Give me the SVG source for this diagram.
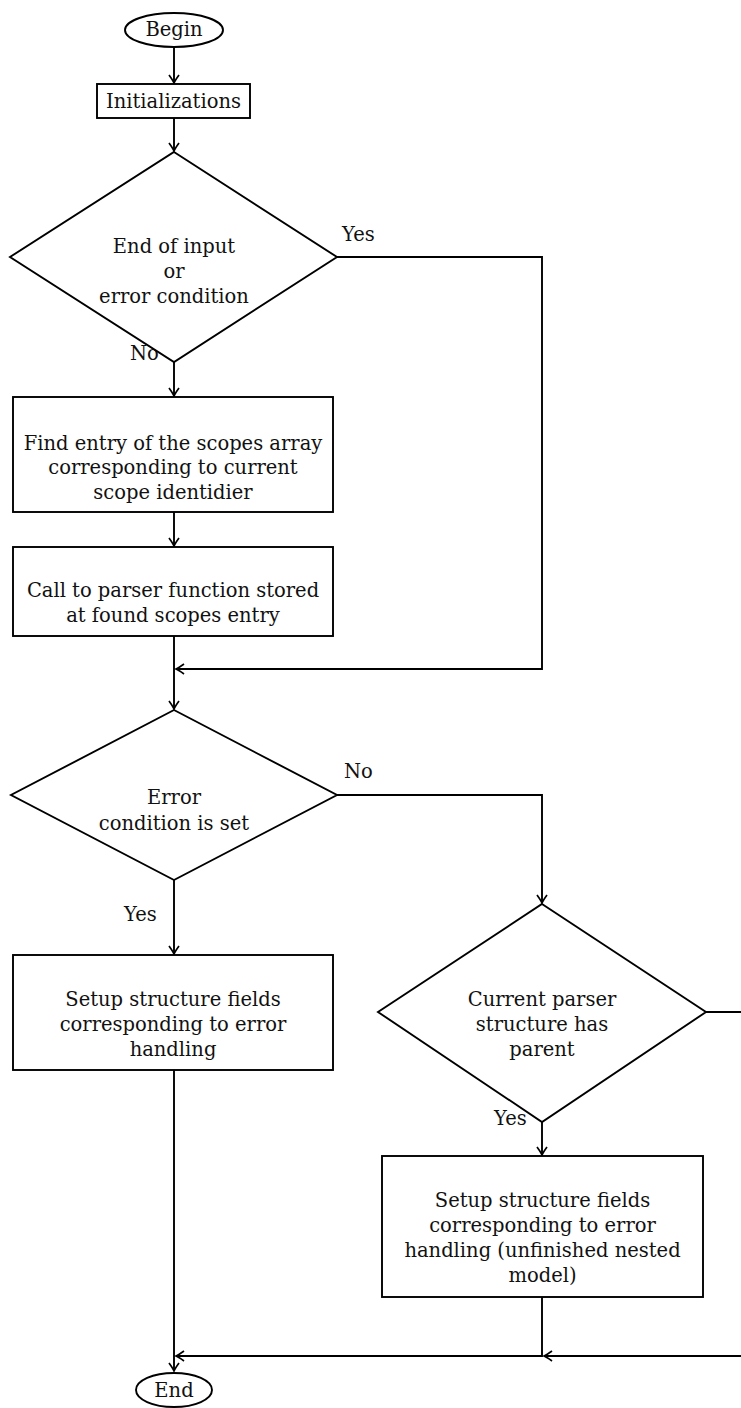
<svg xmlns="http://www.w3.org/2000/svg" width="741" height="1408" viewBox="0 0 741 1408">
<style>
.s{fill:none;stroke:#000;stroke-width:1.9}
.n{fill:#fff;stroke:#000;stroke-width:1.9}
text{font-family:"DejaVu Serif","Liberation Serif",serif;font-size:19.5px;fill:#111}
.c{text-anchor:middle}
</style>
<defs>
<marker id="a" markerUnits="userSpaceOnUse" markerWidth="16" markerHeight="16" viewBox="-12 -8 14 16" refX="0" refY="0" orient="auto">
<path d="M-8,-5 Q-2.5,-1 0,0 Q-2.5,1 -8,5" fill="none" stroke="#000" stroke-width="1.7"/>
</marker>
</defs>
<g id="connectors" class="s">
<path d="M174,48 V83" marker-end="url(#a)"/>
<path d="M174,118 V151" marker-end="url(#a)"/>
<path d="M174,362 V396" marker-end="url(#a)"/>
<path d="M174,512 V546" marker-end="url(#a)"/>
<path d="M174,636 V709" marker-end="url(#a)"/>
<path d="M337,257 H542 V669 H176" marker-end="url(#a)"/>
<path d="M174,880 V954" marker-end="url(#a)"/>
<path d="M337,795 H542 V903" marker-end="url(#a)"/>
<path d="M542,1122 V1155" marker-end="url(#a)"/>
<path d="M174,1070 V1371" marker-end="url(#a)"/>
<path d="M542,1297 V1356 H176" marker-end="url(#a)"/>
<path d="M706,1012 H750 V1356 H544" marker-end="url(#a)"/>
</g>
<g id="labels">
<text x="342" y="241">Yes</text>
<text x="130" y="360">No</text>
<text x="344" y="778">No</text>
<text x="124" y="921">Yes</text>
<text x="632" y="996">No</text>
<text x="494" y="1125">Yes</text>
</g>
<g id="begin">
<ellipse class="n" cx="174" cy="30" rx="49" ry="17"/>
<text class="c" x="174" y="36">Begin</text>
</g>
<g id="init">
<rect class="n" x="97" y="84" width="153" height="34"/>
<text class="c" x="173.5" y="108">Initializations</text>
</g>
<g id="decision1">
<polygon class="n" points="174,152 337,257 174,362 10,257"/>
<text class="c" x="174" y="253">End of input</text>
<text class="c" x="174" y="278">or</text>
<text class="c" x="174" y="303">error condition</text>
</g>
<g id="find">
<rect class="n" x="13" y="397" width="320" height="115"/>
<text class="c" x="173" y="450">Find entry of the scopes array</text>
<text class="c" x="173" y="474">corresponding to current</text>
<text class="c" x="173" y="499">scope identidier</text>
</g>
<g id="call">
<rect class="n" x="13" y="547" width="320" height="89"/>
<text class="c" x="173" y="597">Call to parser function stored</text>
<text class="c" x="173" y="622">at found scopes entry</text>
</g>
<g id="decision2">
<polygon class="n" points="174,710 337,795 174,880 11,795"/>
<text class="c" x="174" y="804">Error</text>
<text class="c" x="174" y="830">condition is set</text>
</g>
<g id="setup1">
<rect class="n" x="13" y="955" width="320" height="115"/>
<text class="c" x="173" y="1006">Setup structure fields</text>
<text class="c" x="173" y="1031">corresponding to error</text>
<text class="c" x="173" y="1056">handling</text>
</g>
<g id="decision3">
<polygon class="n" points="542,904 706,1012 542,1122 378,1012"/>
<text class="c" x="542" y="1006">Current parser</text>
<text class="c" x="542" y="1031">structure has</text>
<text class="c" x="542" y="1056">parent</text>
</g>
<g id="setup2">
<rect class="n" x="382" y="1156" width="321" height="141"/>
<text class="c" x="542.5" y="1207">Setup structure fields</text>
<text class="c" x="542.5" y="1232">corresponding to error</text>
<text class="c" x="542.5" y="1257">handling (unfinished nested</text>
<text class="c" x="542.5" y="1282">model)</text>
</g>
<g id="end">
<ellipse class="n" cx="174" cy="1390" rx="38" ry="17"/>
<text class="c" x="174" y="1397">End</text>
</g>
</svg>
